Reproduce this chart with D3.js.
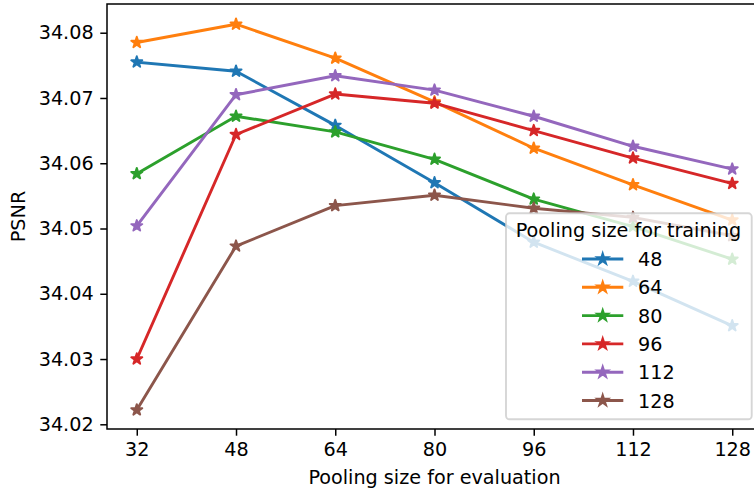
<!DOCTYPE html>
<html>
<head>
<meta charset="utf-8">
<script src="https://cdn.jsdelivr.net/npm/d3@7"></script>
<style>
  body { margin: 0; background: #fff; }
  svg { display: block; font-family: "DejaVu Sans", sans-serif; }
</style>
</head>
<body>
<div id="chart"></div>
<script>
// pooling size used at evaluation (x axis)
var evalSizes = [32, 48, 64, 80, 96, 112, 128];
// pooling size used at training (one line each)
var trainSizes = ["48", "64", "80", "96", "112", "128"];
var psnr48  = [34.0755, 34.0741, 34.0658, 34.0570, 34.0479, 34.0419, 34.0351];
var psnr64  = [34.0785, 34.0813, 34.0761, 34.0694, 34.0623, 34.0567, 34.0513];
var psnr80  = [34.0584, 34.0672, 34.0648, 34.0606, 34.0545, 34.0503, 34.0453];
var psnr96  = [34.0300, 34.0644, 34.0706, 34.0692, 34.0650, 34.0608, 34.0569];
var psnr112 = [34.0504, 34.0705, 34.0734, 34.0712, 34.0672, 34.0626, 34.0591];
var psnr128 = [34.0222, 34.0473, 34.0535, 34.0551, 34.0531, 34.0517, 34.0489];
var yTicks = [34.02, 34.03, 34.04, 34.05, 34.06, 34.07, 34.08];
var colors = ["#1f77b4", "#ff7f0e", "#2ca02c", "#d62728", "#9467bd", "#8c564b"];

var series = [psnr48, psnr64, psnr80, psnr96, psnr112, psnr128].map(function(v, i) {
  return { name: trainSizes[i], color: colors[i],
           points: v.map(function(y, j) { return { x: evalSizes[j], y: y }; }) };
});

var W = 754, H = 491;
// axes box (right edge falls just past the picture, as in the original crop)
var axL = 107, axT = 4, axR = 762, axB = 429;
var fs = 19.2;

var x = d3.scaleLinear().domain([27.2, 132.8]).range([axL, axR]);
var y = d3.scaleLinear().domain([34.01928, 34.0844]).range([axB, axT]);

var svg = d3.select("#chart").append("svg")
    .attr("width", W)
    .attr("height", H);

var star = d3.symbol().type(d3.symbolStar).size(38);

var line = d3.line()
    .x(function(d) { return x(d.x); })
    .y(function(d) { return y(d.y); });

var plot = svg.append("g");

series.forEach(function(s) {
  plot.append("path")
      .attr("d", line(s.points))
      .attr("fill", "none")
      .attr("stroke", s.color)
      .attr("stroke-width", 2.9)
      .attr("stroke-linejoin", "round")
      .attr("stroke-linecap", "square");
  plot.selectAll(null)
      .data(s.points)
    .enter().append("path")
      .attr("d", star)
      .attr("transform", function(d) { return "translate(" + x(d.x) + "," + y(d.y) + ")"; })
      .attr("fill", s.color)
      .attr("stroke", s.color)
      .attr("stroke-width", 1.9)
      .attr("stroke-linejoin", "round");
});

// axes
var xAxis = d3.axisBottom(x).tickValues(evalSizes).tickSize(6.7).tickPadding(6.7);
var yAxis = d3.axisLeft(y).tickValues(yTicks).tickFormat(d3.format(".2f")).tickSize(6.7).tickPadding(6.7);

var gx = svg.append("g").attr("transform", "translate(0," + axB + ")").call(xAxis);
var gy = svg.append("g").attr("transform", "translate(" + axL + ",0)").call(yAxis);

[gx, gy].forEach(function(g) {
  g.select(".domain").remove();
  g.selectAll(".tick line").attr("stroke", "#000").attr("stroke-width", 1.5);
  g.selectAll(".tick text").attr("fill", "#000").style("font-size", fs + "px")
    .style("font-family", "DejaVu Sans");
});

// spines
svg.append("rect")
    .attr("x", axL).attr("y", axT)
    .attr("width", axR - axL).attr("height", axB - axT)
    .attr("fill", "none")
    .attr("stroke", "#000")
    .attr("stroke-width", 1.5);

svg.append("text")
    .attr("x", (axL + axR) / 2)
    .attr("y", 484)
    .attr("text-anchor", "middle")
    .style("font-size", fs + "px")
    .text("Pooling size for evaluation");

svg.append("text")
    .attr("transform", "translate(25," + ((axT + axB) / 2) + ") rotate(-90)")
    .attr("text-anchor", "middle")
    .style("font-size", fs + "px")
    .text("PSNR");

// legend
var lg = svg.append("g");
var lx = 506, ly = 213.3, lw = 245.7, lh = 206;
lg.append("rect")
    .attr("x", lx).attr("y", ly)
    .attr("width", lw).attr("height", lh)
    .attr("rx", 3.5).attr("ry", 3.5)
    .attr("fill", "#fff").attr("fill-opacity", 0.8)
    .attr("stroke", "#cccccc").attr("stroke-opacity", 0.8)
    .attr("stroke-width", 1.9);

lg.append("text")
    .attr("x", 628.5)
    .attr("y", 237)
    .attr("text-anchor", "middle")
    .style("font-size", fs + "px")
    .text("Pooling size for training");

var item = lg.selectAll(".item")
    .data(series)
  .enter().append("g")
    .attr("class", "item")
    .attr("transform", function(d, i) { return "translate(0," + (259 + i * 28.3) + ")"; });

item.append("line")
    .attr("x1", 582).attr("x2", 623.3)
    .attr("stroke", function(d) { return d.color; })
    .attr("stroke-width", 2.9);
item.append("path")
    .attr("d", star)
    .attr("transform", "translate(602.7,0)")
    .attr("fill", function(d) { return d.color; })
    .attr("stroke", function(d) { return d.color; })
    .attr("stroke-width", 1.9);
item.append("text")
    .attr("x", 638)
    .attr("y", 7)
    .style("font-size", fs + "px")
    .text(function(d) { return d.name; });
</script>
</body>
</html>
